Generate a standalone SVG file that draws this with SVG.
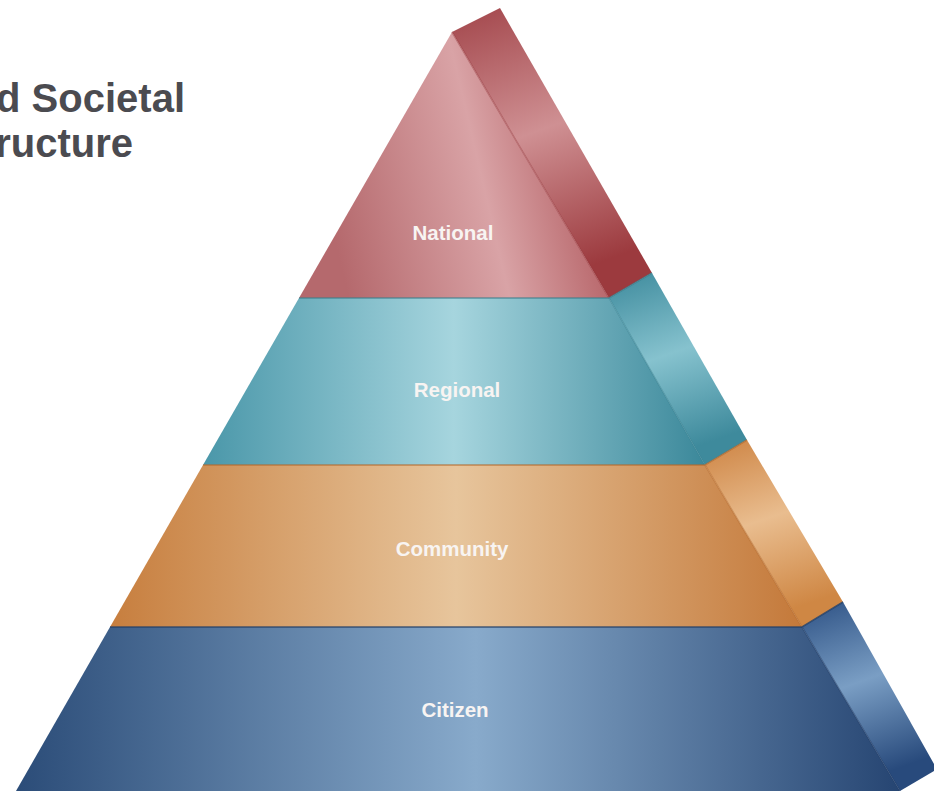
<svg xmlns="http://www.w3.org/2000/svg" width="934" height="791" viewBox="0 0 934 791">
<defs>
<linearGradient id="gNatF" x1="0" y1="0.2" x2="1" y2="0">
<stop offset="0" stop-color="#b5696d"/><stop offset="0.5" stop-color="#d9a3a6"/><stop offset="1" stop-color="#a5454a"/>
</linearGradient>
<linearGradient id="gNatS" x1="0" y1="0" x2="0.25" y2="1">
<stop offset="0" stop-color="#a2454a"/><stop offset="0.5" stop-color="#cf9093"/><stop offset="1" stop-color="#9c3a3e"/>
</linearGradient>
<linearGradient id="gRegF" x1="0" y1="0" x2="1" y2="0">
<stop offset="0" stop-color="#4a97a9"/><stop offset="0.5" stop-color="#a6d5de"/><stop offset="1" stop-color="#3b889a"/>
</linearGradient>
<linearGradient id="gRegS" x1="0" y1="0" x2="0.25" y2="1">
<stop offset="0" stop-color="#3d8a9c"/><stop offset="0.5" stop-color="#86c2ce"/><stop offset="1" stop-color="#3e8a9c"/>
</linearGradient>
<linearGradient id="gComF" x1="0" y1="0" x2="1" y2="0">
<stop offset="0" stop-color="#c77e3e"/><stop offset="0.5" stop-color="#e7c59c"/><stop offset="1" stop-color="#c4793a"/>
</linearGradient>
<linearGradient id="gComS" x1="0" y1="0" x2="0.25" y2="1">
<stop offset="0" stop-color="#cd8342"/><stop offset="0.5" stop-color="#e9bd8f"/><stop offset="1" stop-color="#cf8744"/>
</linearGradient>
<linearGradient id="gCitF" x1="0" y1="0" x2="1" y2="0">
<stop offset="0" stop-color="#2b4c78"/><stop offset="0.52" stop-color="#88aacb"/><stop offset="1" stop-color="#264572"/>
</linearGradient>
<linearGradient id="gCitS" x1="0" y1="0" x2="0.25" y2="1">
<stop offset="0" stop-color="#2d5184"/><stop offset="0.5" stop-color="#7a9ec4"/><stop offset="1" stop-color="#284a7c"/>
</linearGradient>
</defs>
<style>
.title{font-family:"Liberation Sans",Arial,sans-serif;font-weight:bold;font-size:40px;fill:#4b4b50;}
.lbl{font-family:"Liberation Sans",Arial,sans-serif;font-weight:bold;font-size:20.5px;fill:#f8f4f2;text-anchor:middle;}
.edge{fill:none;stroke-width:1.5;}
</style>
<g id="title">
<text class="title" x="185" y="112" text-anchor="end">d Societal</text>
<text class="title" x="133" y="157" text-anchor="end">ructure</text>
</g>
<g id="national">
<polygon points="452,32 500,8 652,273 609,298" fill="url(#gNatS)"/>
<polygon points="452,32 299,298 609,298" fill="url(#gNatF)"/>
<line class="edge" x1="452" y1="32" x2="609" y2="298" stroke="#9a3c40" stroke-opacity="0.5"/>
<text class="lbl" x="453" y="240">National</text>
</g>
<g id="regional">
<polygon points="609,298 652,273 747,440 705,465" fill="url(#gRegS)"/>
<polygon points="299,298 609,298 705,465 203,465" fill="url(#gRegF)"/>
<polyline class="edge" points="299,298 609,298 652,273" stroke="#3a7d8c" stroke-opacity="0.7"/>
<line class="edge" x1="609" y1="298" x2="705" y2="465" stroke="#357f90" stroke-opacity="0.5"/>
<text class="lbl" x="457" y="397">Regional</text>
</g>
<g id="community">
<polygon points="705,465 747,440 843,602 802,627" fill="url(#gComS)"/>
<polygon points="203,465 705,465 802,627 110,627" fill="url(#gComF)"/>
<polyline class="edge" points="203,465 705,465 747,440" stroke="#b36a2c" stroke-opacity="0.7"/>
<line class="edge" x1="705" y1="465" x2="802" y2="627" stroke="#b56c2e" stroke-opacity="0.5"/>
<text class="lbl" x="452" y="556">Community</text>
</g>
<g id="citizen">
<polygon points="802,627 843,602 934,764 934,771 900,791" fill="url(#gCitS)"/>
<polygon points="110,627 802,627 900,791 16,791" fill="url(#gCitF)"/>
<polyline class="edge" points="110,627 802,627 843,602" stroke="#223e66" stroke-opacity="0.8"/>
<line class="edge" x1="802" y1="627" x2="900" y2="791" stroke="#213e68" stroke-opacity="0.5"/>
<text class="lbl" x="455" y="717">Citizen</text>
</g>
</svg>
